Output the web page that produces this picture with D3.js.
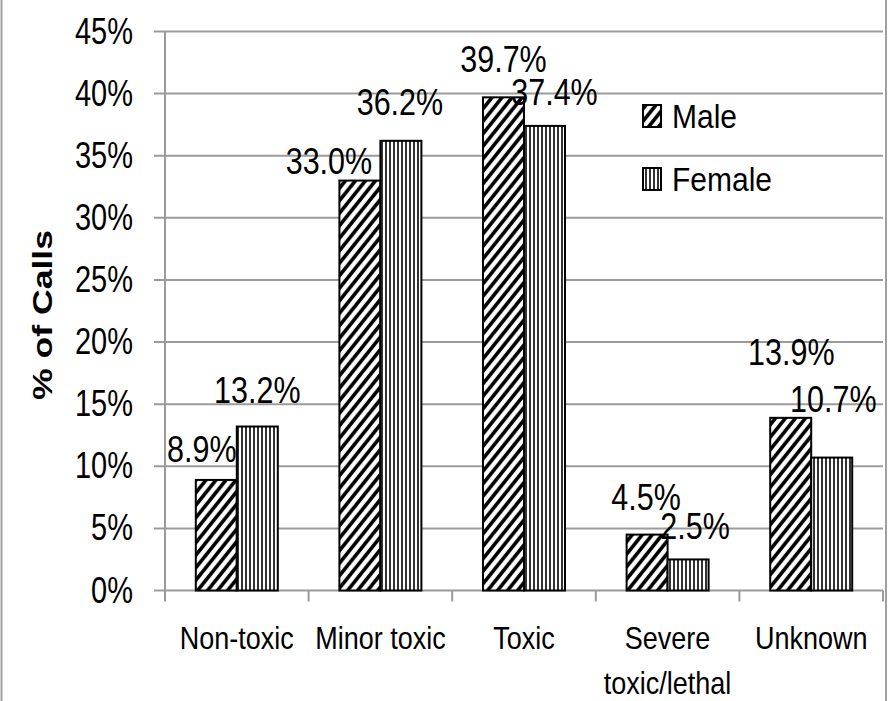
<!DOCTYPE html>
<html>
<head>
<meta charset="utf-8">
<script src="https://cdn.jsdelivr.net/npm/d3@7"></script>
<style>
  html, body { margin: 0; padding: 0; background: #fff; }
  svg { display: block; }
  text { font-family: "Liberation Sans", Arial, sans-serif; fill: #000; }
</style>
</head>
<body>
<svg id="chart" width="890" height="701"></svg>
<script>
// ---- data ----
const categories = [["Non-toxic"], ["Minor toxic"], ["Toxic"], ["Severe", "toxic/lethal"], ["Unknown"]];
const seriesNames = ["Male", "Female"];
const maleValues = [8.9, 33.0, 39.7, 4.5, 13.9];
const femaleValues = [13.2, 36.2, 37.4, 2.5, 10.7];
const yTicks = [0, 5, 10, 15, 20, 25, 30, 35, 40, 45];
const yTitle = "% of Calls";

// ---- layout ----
const svg = d3.select("#chart");
const plotLeft = 165, plotRight = 883, plotTop = 31.5, plotBottom = 590.5;
const gridColor = "#9b9b9b";

const x0 = d3.scaleBand().domain(d3.range(categories.length)).range([plotLeft, plotRight]).padding(0);
const groupW = 82;
const x1 = d3.scaleBand().domain(seriesNames)
  .range([(x0.bandwidth() - groupW) / 2, (x0.bandwidth() + groupW) / 2]).padding(0);
const y = d3.scaleLinear().domain([0, 45]).range([plotBottom, plotTop]);

// patterns
const defs = svg.append("defs");
const pm = defs.append("pattern").attr("id", "hatchMale")
  .attr("patternUnits", "userSpaceOnUse").attr("width", 10).attr("height", 12.5);
pm.append("rect").attr("width", 10).attr("height", 12.5).attr("fill", "#fff");
pm.append("path").attr("d", "M-2.5,3.125 L2.5,-3.125 M0,12.5 L10,0 M7.5,15.625 L12.5,9.375")
  .attr("stroke", "#000").attr("stroke-width", 3.6);
const pf = defs.append("pattern").attr("id", "hatchFemale")
  .attr("patternUnits", "userSpaceOnUse").attr("width", 4).attr("height", 4);
pf.append("rect").attr("width", 4).attr("height", 4).attr("fill", "#fff");
pf.append("rect").attr("x", 1.2).attr("width", 1.6).attr("height", 4).attr("fill", "#000");
const fills = { Male: "url(#hatchMale)", Female: "url(#hatchFemale)" };

// outer chart border (left/right)
svg.append("rect").attr("x", 1.5).attr("y", -10).attr("width", 884.5).attr("height", 730)
  .attr("fill", "none").attr("stroke", "#a0a0a0").attr("stroke-width", 2);

// helper for stretched text
function addText(g, x, yy, str, size, sy, anchor, weight) {
  return g.append("text")
    .attr("transform", `translate(${x},${yy}) scale(1,${sy})`)
    .attr("text-anchor", anchor || "start")
    .attr("font-size", size)
    .attr("font-weight", weight || "normal")
    .text(str);
}

// gridlines + y ticks
const grid = svg.append("g");
grid.selectAll("line").data(yTicks).join("line")
  .attr("x1", plotLeft - 11).attr("x2", plotRight)
  .attr("y1", d => y(d)).attr("y2", d => y(d))
  .attr("stroke", gridColor).attr("stroke-width", 2);
// y axis line
svg.append("line").attr("x1", plotLeft).attr("x2", plotLeft)
  .attr("y1", y(45)).attr("y2", y(0)).attr("stroke", gridColor).attr("stroke-width", 2);
// x ticks
svg.append("g").selectAll("line").data(d3.range(categories.length + 1)).join("line")
  .attr("x1", i => plotLeft + i * x0.step()).attr("x2", i => plotLeft + i * x0.step())
  .attr("y1", y(0)).attr("y2", y(0) + 11).attr("stroke", gridColor).attr("stroke-width", 2);

// y tick labels
const yl = svg.append("g");
yTicks.forEach(t => addText(yl, 133, y(t) + 12, t + "%", 29, 1.3, "end"));

// bars
const rows = categories.map((c, i) => ({ i, Male: maleValues[i], Female: femaleValues[i] }));
const bars = svg.append("g");
rows.forEach(r => {
  seriesNames.forEach(s => {
    bars.append("rect")
      .attr("x", x0(r.i) + x1(s))
      .attr("y", y(r[s]))
      .attr("width", x1.bandwidth())
      .attr("height", y(0) - y(r[s]))
      .attr("fill", fills[s])
      .attr("stroke", "#000").attr("stroke-width", 2);
  });
});

// data labels (manually offset as in the original)
const labelOffsets = {
  Male:   [[-14.5, -18], [-31, -7], [0, -25], [-1, -25], [0.6, -53]],
  Female: [[0, -24], [-1, -25.5], [10, -20.6], [7, -20], [1.6, -46]]
};
const lbl = svg.append("g");
rows.forEach(r => {
  seriesNames.forEach(s => {
    const cx = x0(r.i) + x1(s) + x1.bandwidth() / 2;
    const off = labelOffsets[s][r.i];
    addText(lbl, cx + off[0], y(r[s]) + off[1], r[s].toFixed(1) + "%", 30.5, 1.24, "middle");
  });
});

// category labels
const cl = svg.append("g");
categories.forEach((lines, i) => {
  lines.forEach((ln, k) => {
    addText(cl, x0(i) + x0.bandwidth() / 2, 649 + k * 45, ln, 27, 1.17, "middle");
  });
});

// y title
svg.append("text")
  .attr("transform", `translate(52,315) rotate(-90) scale(1.27,1)`)
  .attr("text-anchor", "middle").attr("font-size", 28).attr("font-weight", "bold")
  .text(yTitle);

// legend
const lg = svg.append("g");
seriesNames.forEach((s, k) => {
  const top = 105 + k * 63;
  lg.append("rect").attr("x", 643).attr("y", top).attr("width", 18).attr("height", 22)
    .attr("fill", fills[s]).attr("stroke", "#000").attr("stroke-width", 2);
  addText(lg, 672, top + 23, s, 30, 1.08, "start");
});
</script>
</body>
</html>
